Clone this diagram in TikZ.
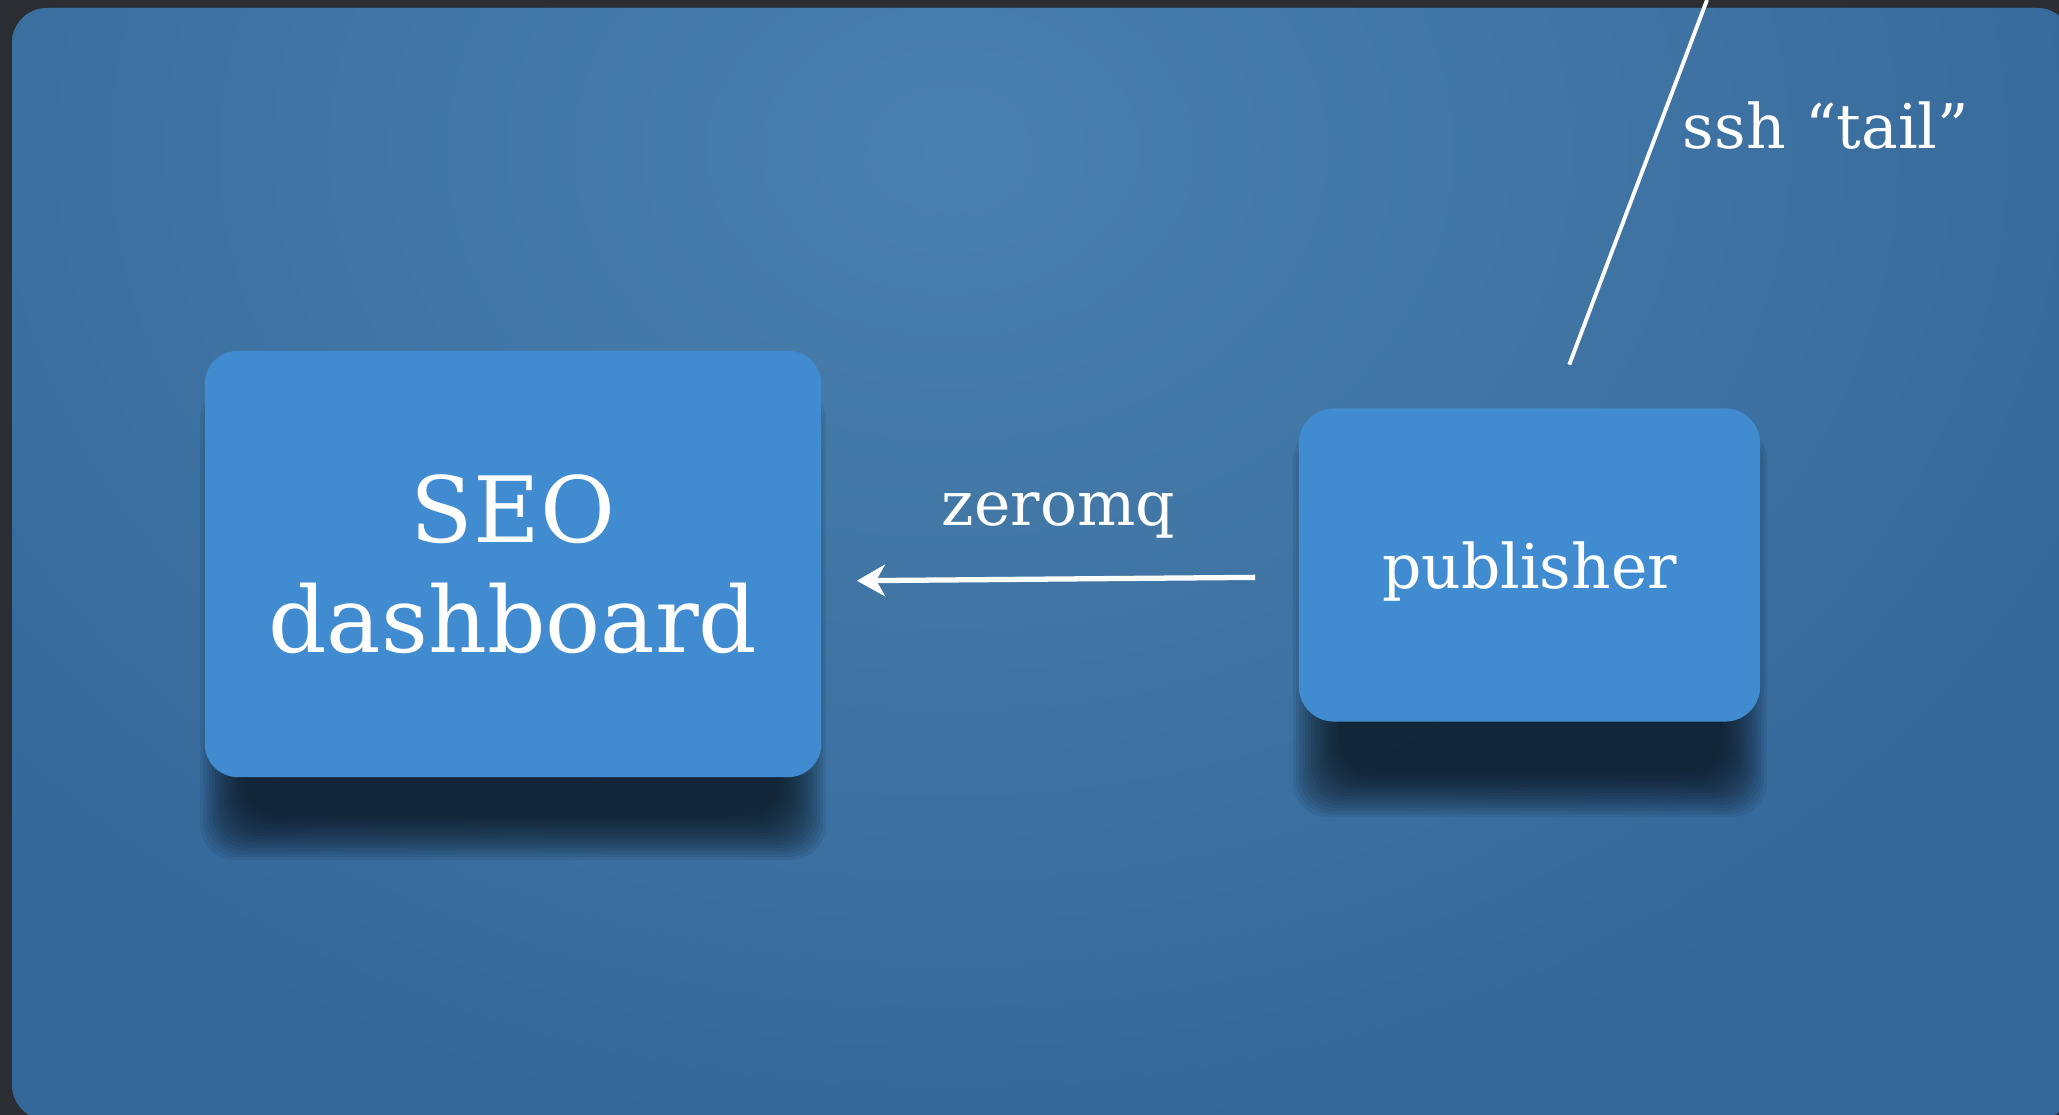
\documentclass[tikz,border=0pt]{standalone}
\usepackage{fontspec}
\setmainfont{DejaVu Serif}
\usetikzlibrary{arrows.meta,calc}
\definecolor{framec}{HTML}{2A2D31}
\definecolor{panelbase}{HTML}{34689A}
\definecolor{panelhi}{HTML}{4A80AD}
\definecolor{boxfill}{HTML}{418CD0}
\definecolor{shadowc}{HTML}{0C1520}
\tikzset{
  box/.style={draw=none, fill=boxfill, rounded corners=0.33cm, text=white, align=center, inner sep=0pt},
  conn/.style={draw=white, line width=1.5pt, -{Stealth[length=8pt,width=9pt,inset=2.5pt]}},
  plainline/.style={draw=white, line width=1.1pt},
  lbl/.style={text=white, font=\fontsize{17.5pt}{21pt}\selectfont, inner sep=0pt},
}
\newcommand{\softshadow}[4]{%
  \foreach \k in {0,...,15}{
    \pgfmathsetmacro{\g}{(15-\k)*3}
    \fill[shadowc, opacity=0.085, rounded corners=0.35cm] (#1-\g,#2-\g) rectangle (#3+\g,#4+\g);
  }}
\begin{document}
\begin{tikzpicture}[x=0.01cm,y=-0.01cm]
\useasboundingbox (0,0) rectangle (2059,1115);
\fill[framec] (0,0) rectangle (2059,1115);
\begin{scope}
  \clip[rounded corners=0.35cm] (12,8) rectangle (2072,1120);
  \fill[panelbase] (0,0) rectangle (2100,1150);
  \shade[inner color=panelhi, outer color=panelbase] (950,150) ellipse [x radius=13cm, y radius=10cm];
\end{scope}
\softshadow{245}{430}{781}{815}
\softshadow{1338}{470}{1722}{772}
\node[box, minimum width=6.16cm, minimum height=4.26cm, font=\fontsize{26pt}{31.3pt}\selectfont] (seo) at (513,564) {SEO\\dashboard};
\node[box, minimum width=4.61cm, minimum height=3.13cm, rounded corners=0.35cm, text depth=0pt, font=\fontsize{17.5pt}{21pt}\selectfont] (pub) at (1529.5,565) {publisher};
\draw[conn, shorten <=0.43cm, shorten >=0.35cm] ([yshift=-0.12cm]pub.west) -- ([yshift=-0.17cm]seo.east);
\coordinate (sshtop) at (1707,0);
\draw[plainline, shorten <=0.46cm] ([xshift=0.235cm]pub.north) -- (sshtop);
\node[lbl, anchor=base] (zmq) at (1058.5,525) {zeromq};
\node[lbl, anchor=base] (ssh) at (1826,148) {ssh “tail”};
\end{tikzpicture}
\end{document}
